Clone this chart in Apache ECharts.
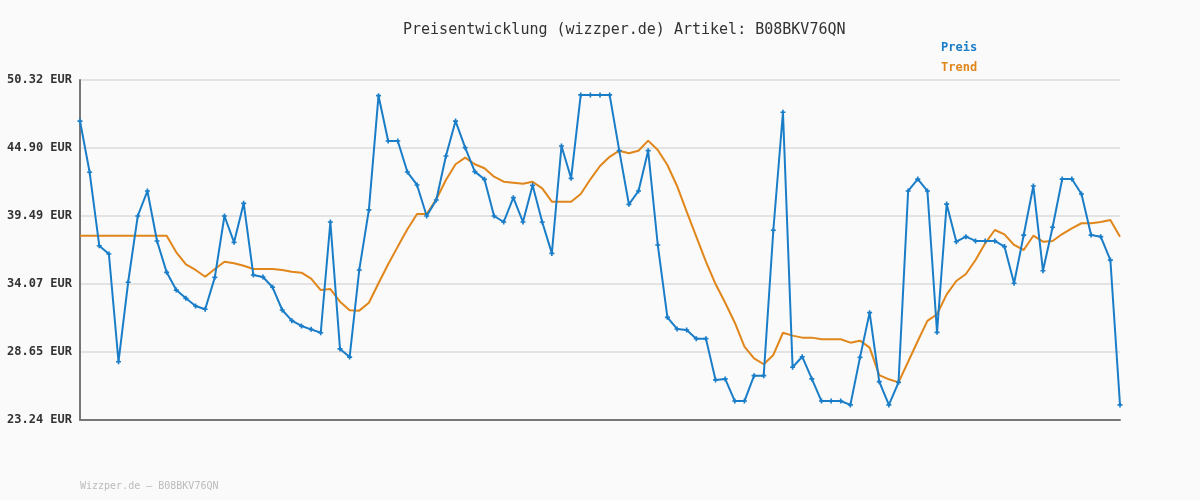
<!DOCTYPE html>
<html>
<head>
<meta charset="utf-8">
<script src="https://cdn.jsdelivr.net/npm/echarts@6/dist/echarts.min.js"></script>
<style>
html,body{margin:0;padding:0;background:#fafafa;}
#chart{width:1200px;height:500px;}
</style>
</head>
<body>
<div id="chart"></div>
<script>
const titleText = 'Preisentwicklung (wizzper.de) Artikel: B08BKV76QN';
const footerText = 'Wizzper.de \u2013 B08BKV76QN';
const tickLabels = ['23.24', '28.65', '34.07', '39.49', '44.90', '50.32'];

const preis = [
  47.05, 42.97, 37.12, 36.46, 27.88, 34.21, 39.49, 41.48, 37.50, 35.00,
  33.59, 32.93, 32.32, 32.06, 34.60, 39.49, 37.39, 40.50, 34.79, 34.63,
  33.81, 32.00, 31.15, 30.73, 30.46, 30.19, 39.01, 28.90, 28.25, 35.19,
  39.97, 49.07, 45.46, 45.46, 42.99, 41.96, 39.49, 40.76, 44.27, 47.05,
  44.93, 43.02, 42.41, 39.49, 39.01, 40.95, 39.01, 41.93, 39.01, 36.51,
  45.06, 42.49, 49.13, 49.13, 49.13, 49.13, 44.69, 40.42, 41.48, 44.69,
  37.18, 31.42, 30.49, 30.41, 29.72, 29.72, 26.43, 26.51, 24.75, 24.75,
  26.77, 26.77, 38.35, 47.75, 27.44, 28.28, 26.51, 24.75, 24.75, 24.75,
  24.44, 28.23, 31.79, 26.29, 24.44, 26.24, 41.48, 42.43, 41.48, 30.22,
  40.44, 37.44, 37.84, 37.50, 37.50, 37.50, 37.05, 34.13, 37.97, 41.88,
  35.13, 38.59, 42.43, 42.43, 41.24, 37.97, 37.84, 35.98, 24.44
];

const trend = [
  37.92, 37.92, 37.92, 37.92, 37.92, 37.92, 37.92, 37.92, 37.92, 37.92,
  36.60, 35.64, 35.19, 34.65, 35.27, 35.85, 35.72, 35.53, 35.27, 35.27,
  35.27, 35.19, 35.05, 34.97, 34.50, 33.59, 33.67, 32.66, 31.98, 31.95,
  32.58, 34.13, 35.64, 37.05, 38.43, 39.65, 39.65, 40.82, 42.36, 43.61,
  44.14, 43.61, 43.29, 42.62, 42.22, 42.14, 42.06, 42.22, 41.69, 40.63,
  40.63, 40.63, 41.24, 42.41, 43.47, 44.20, 44.69, 44.48, 44.69, 45.49,
  44.74, 43.55, 41.88, 39.83, 37.84, 35.85, 34.07, 32.58, 30.99, 29.08,
  28.15, 27.68, 28.42, 30.19, 29.96, 29.80, 29.80, 29.67, 29.67, 29.67,
  29.40, 29.56, 29.00, 26.82, 26.48, 26.24, 27.88, 29.53, 31.13, 31.66,
  33.25, 34.31, 34.87, 35.98, 37.31, 38.37, 38.03, 37.18, 36.78, 37.92,
  37.44, 37.50, 38.05, 38.51, 38.91, 38.91, 39.01, 39.17, 37.84
];

const categories = preis.map((_, i) => String(i + 1));
const tickValues = tickLabels.map(parseFloat);

const BLUE = '#1a7dc8';
const ORANGE = '#e0861a';
const MONO = '"DejaVu Sans Mono", "Liberation Mono", monospace';
const plus = 'path://M2,0 L4,0 L4,2 L6,2 L6,4 L4,4 L4,6 L2,6 L2,4 L0,4 L0,2 L2,2 Z';

const chart = echarts.init(document.getElementById('chart'));
chart.setOption({
  backgroundColor: '#fafafa',
  animation: false,
  title: {
    text: titleText,
    left: 398,
    top: 18,
    textStyle: { fontFamily: MONO, fontSize: 15, fontWeight: 'normal', color: '#333' }
  },
  legend: {
    orient: 'vertical',
    left: 931,
    top: 37,
    itemGap: 8,
    itemWidth: 0,
    itemHeight: 0,
    icon: 'none',
    selectedMode: false,
    textStyle: { fontFamily: MONO, fontSize: 12, fontWeight: 'bold', padding: 0 },
    data: [
      { name: 'Preis', textStyle: { color: BLUE } },
      { name: 'Trend', textStyle: { color: ORANGE } }
    ]
  },
  graphic: [{
    type: 'text',
    left: 80,
    top: 481,
    style: { text: footerText, fill: '#bbbbbb', font: '10px ' + MONO }
  }],
  grid: { left: 80, right: 80, top: 80, bottom: 80, containLabel: false },
  xAxis: {
    type: 'category',
    data: categories,
    boundaryGap: false,
    axisLine: { lineStyle: { color: '#777', width: 2 } },
    axisTick: { show: false },
    axisLabel: { show: false },
    splitLine: { show: false }
  },
  yAxis: {
    type: 'value',
    min: 23.24,
    max: 50.32,
    axisLine: { show: true, lineStyle: { color: '#777', width: 2 } },
    axisTick: { show: false, customValues: tickValues },
    axisLabel: {
      customValues: tickValues,
      formatter: v => v.toFixed(2) + ' EUR',
      fontFamily: MONO,
      fontSize: 12,
      fontWeight: 'bold',
      color: '#333',
      margin: 8
    },
    splitLine: { show: true, lineStyle: { color: '#e3e3e3', width: 2 } }
  },
  series: [
    {
      name: 'Preis',
      type: 'line',
      data: preis,
      symbol: plus,
      symbolSize: 5,
      showSymbol: true,
      lineStyle: { color: BLUE, width: 2 },
      itemStyle: { color: BLUE },
      z: 3
    },
    {
      name: 'Trend',
      type: 'line',
      data: trend,
      symbol: 'none',
      lineStyle: { color: ORANGE, width: 2 },
      itemStyle: { color: ORANGE },
      z: 2
    }
  ]
});
</script>
</body>
</html>
